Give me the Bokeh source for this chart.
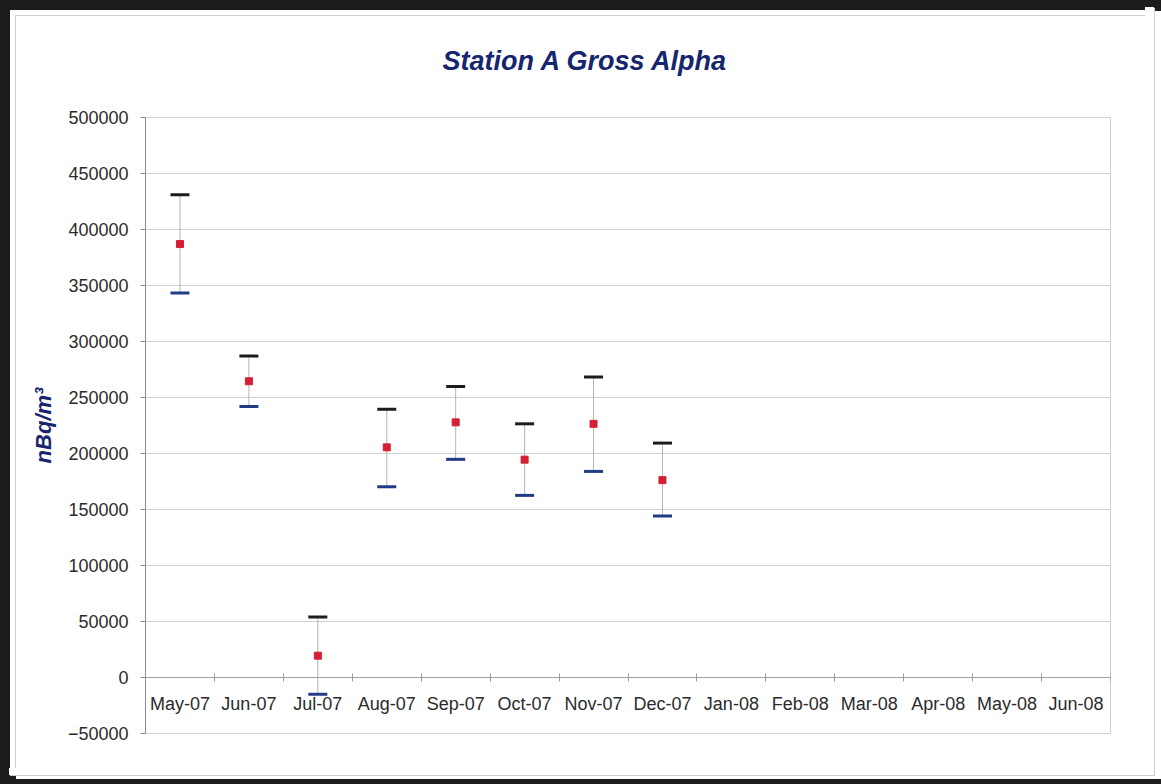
from bokeh.plotting import figure
from bokeh.models import FixedTicker, Range1d, ColumnDataSource
from bokeh.embed import file_html
from bokeh.resources import INLINE

# ---- data ----
months = ["May-07", "Jun-07", "Jul-07", "Aug-07", "Sep-07", "Oct-07", "Nov-07",
          "Dec-07", "Jan-08", "Feb-08", "Mar-08", "Apr-08", "May-08", "Jun-08"]
measured_months = ["May-07", "Jun-07", "Jul-07", "Aug-07", "Sep-07", "Oct-07", "Nov-07", "Dec-07"]
mean_vals = [387000, 264500, 19500, 205500, 227800, 194500, 226500, 176200]
upper_vals = [431000, 287000, 54000, 239500, 259800, 226500, 268300, 209300]
lower_vals = [343300, 242000, -15000, 170300, 194800, 162600, 184000, 144300]
y_ticks = list(range(-50000, 500001, 50000))

FONT = "Liberation Sans"
NAVY = "#15266e"

xpos = [months.index(m) + 0.5 for m in measured_months]
src = ColumnDataSource(dict(x=xpos, mean=mean_vals, upper=upper_vals, lower=lower_vals))

p = figure(width=1145, height=768, output_backend="svg", toolbar_location=None,
           x_range=Range1d(0, len(months)), y_range=Range1d(-50000, 500000),
           min_border_left=145, min_border_right=35, min_border_top=117, min_border_bottom=35,
           background_fill_color="white", border_fill_alpha=0)

# scanned page frame: black scan edges and the thin grey chart-area border
p.styles = {
    "background-color": "white",
    "box-shadow": ", ".join([
        "inset 10px 0 0 0 #1c1c1c",
        "inset 0 10px 0 0 #1c1c1c",
        "inset 15px 15px 0 0 white",
        "inset 16px 16px 0 0 #cfcfcf",
        "9px 7px 0 0 white",
        "10px 8px 0 0 #cfcfcf",
        "16px 11px 0 0 white",
        "0 0 0 16px #1c1c1c",
    ]),
}

# title
p.title.text = "Station A Gross Alpha"
p.title.align = "left"
p.title.text_font = FONT
p.title.text_font_size = "27px"
p.title.text_font_style = "bold italic"
p.title.text_color = NAVY
p.title.standoff = 83
p.title.offset = 297

p.outline_line_color = "#c9d1da"
p.outline_line_width = 1

# grid
p.xgrid.visible = False
p.ygrid.ticker = FixedTicker(ticks=y_ticks)
p.ygrid.grid_line_color = "#d0d0d0"
p.ygrid.grid_line_width = 1

# y axis
p.yaxis.ticker = FixedTicker(ticks=y_ticks)
p.yaxis.formatter.use_scientific = False
p.yaxis.axis_line_color = "#8c8c8c"
p.yaxis.major_tick_line_color = "#8c8c8c"
p.yaxis.major_tick_out = 5
p.yaxis.major_tick_in = 0
p.yaxis.minor_tick_line_color = None
p.yaxis.major_label_standoff = 12
p.yaxis.major_label_text_font = FONT
p.yaxis.major_label_text_font_size = "18px"
p.yaxis.major_label_text_color = "#2b2b2b"
p.yaxis.axis_label = "nBq/m³"
p.yaxis.axis_label_text_font = FONT
p.yaxis.axis_label_text_font_size = "22px"
p.yaxis.axis_label_text_font_style = "bold italic"
p.yaxis.axis_label_text_color = NAVY
p.yaxis.axis_label_standoff = 9

# x axis crossing at y = 0, ticks at category boundaries
xa = p.xaxis[0]
xa.fixed_location = 0
xa.ticker = FixedTicker(ticks=[i + 0.5 for i in range(len(months))],
                        minor_ticks=list(range(len(months) + 1)))
xa.major_label_overrides = {i + 0.5: m for i, m in enumerate(months)}
xa.major_tick_line_color = None
xa.major_tick_in = 0
xa.major_tick_out = 0
xa.minor_tick_line_color = "#9a9a9a"
xa.minor_tick_in = 4
xa.minor_tick_out = 4
xa.axis_line_color = "#a0a0a0"
xa.major_label_standoff = 12
xa.major_label_text_font = FONT
xa.major_label_text_font_size = "18px"
xa.major_label_text_color = "#2b2b2b"

# error bars
p.segment(x0="x", y0="lower", x1="x", y1="upper", source=src, line_color="#b5b5b5", line_width=1)
p.scatter(x="x", y="upper", source=src, marker="dash", size=19, line_width=3, line_color="#1c1c1c")
p.scatter(x="x", y="lower", source=src, marker="dash", size=19, line_width=3, line_color="#203c86")
p.scatter(x="x", y="mean", source=src, marker="square", size=7, fill_color="#d41f35",
          line_color="#d41f35")

open("out.html", "w").write(file_html(p, INLINE))
